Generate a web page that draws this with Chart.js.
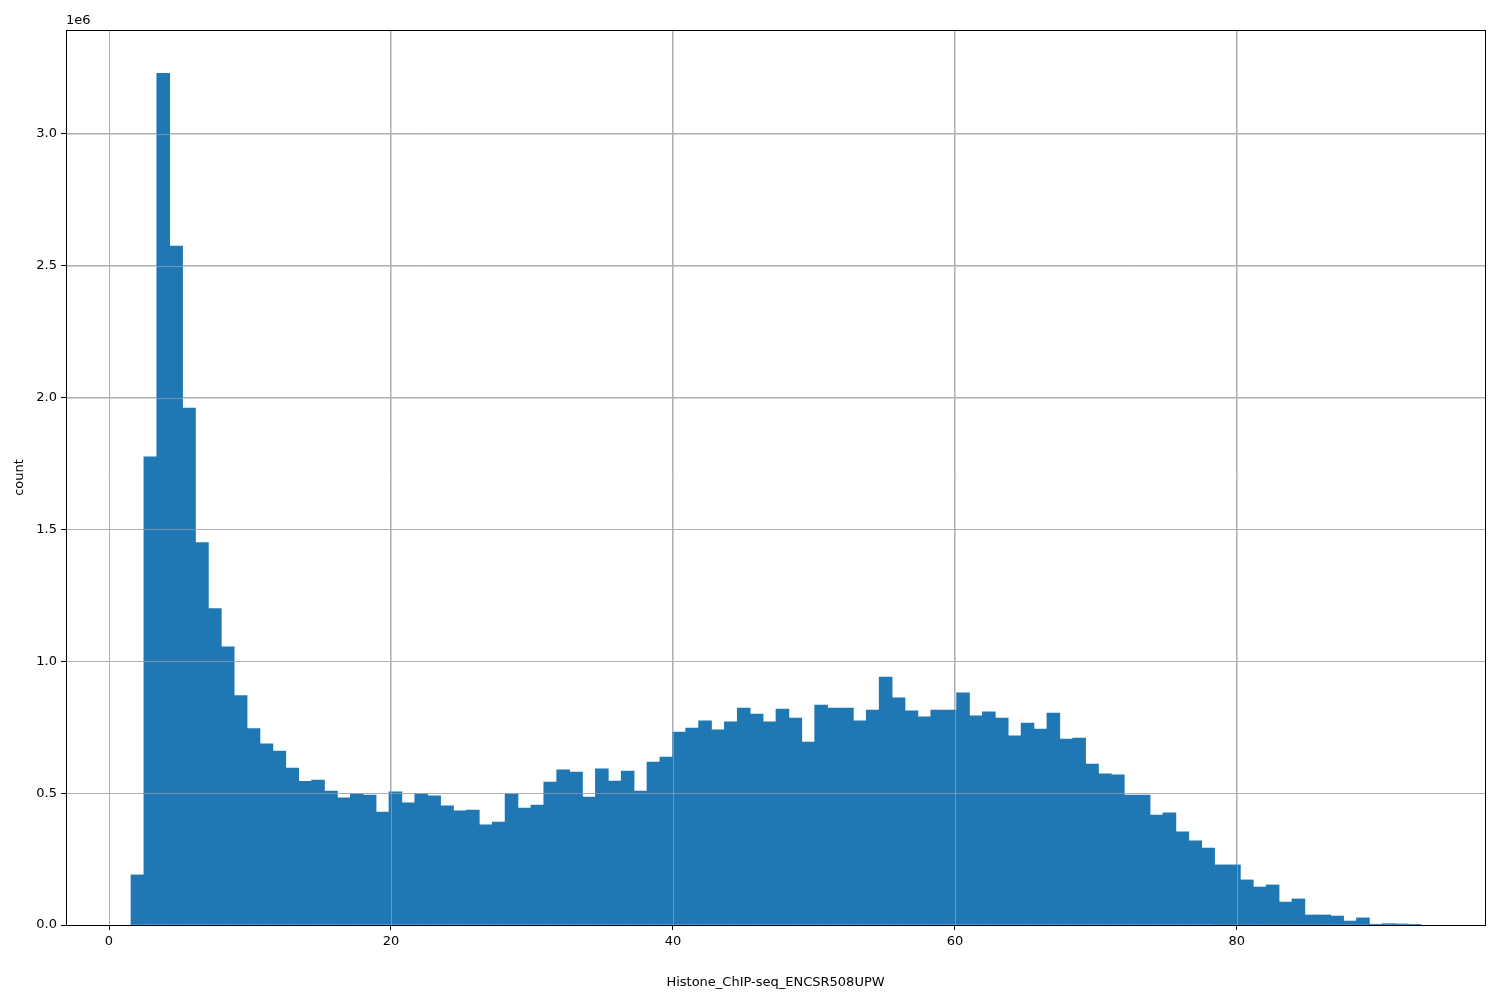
<!DOCTYPE html>
<html>
<head>
<meta charset="utf-8">
<script src="https://cdn.jsdelivr.net/npm/chart.js@4"></script>
<style>
  html, body { margin: 0; padding: 0; background: #fff; }
  #wrap { width: 1500px; height: 1000px; }
</style>
</head>
<body>
<div id="wrap"><canvas id="hist" width="1500" height="1000"></canvas></div>
<script>
// histogram: 100 equal bins starting at binStart
const binStart = 1.56;
const binWidth = 0.915;
const counts = [
  0.19, 1.775, 3.23, 2.575, 1.96, 1.45, 1.2, 1.055, 0.87, 0.745,
  0.687, 0.66, 0.595, 0.545, 0.55, 0.508, 0.482, 0.497, 0.493, 0.428,
  0.505, 0.463, 0.497, 0.49, 0.452, 0.433, 0.436, 0.38, 0.39, 0.497,
  0.443, 0.455, 0.542, 0.588, 0.58, 0.485, 0.592, 0.546, 0.584, 0.508,
  0.618, 0.637, 0.732, 0.747, 0.774, 0.74, 0.77, 0.823, 0.8, 0.77,
  0.819, 0.785, 0.694, 0.834, 0.823, 0.823, 0.774, 0.815, 0.94, 0.861,
  0.812, 0.789, 0.815, 0.815, 0.88, 0.793, 0.808, 0.785, 0.717, 0.766,
  0.743, 0.804, 0.705, 0.709, 0.61, 0.573, 0.569, 0.493, 0.493, 0.417,
  0.425, 0.353, 0.319, 0.292, 0.228, 0.228, 0.171, 0.144, 0.152, 0.087,
  0.099, 0.038, 0.038, 0.034, 0.015, 0.027, 0.003, 0.005, 0.004, 0.001
].map(v => v * 1e6);
const xTicks = [0, 20, 40, 60, 80];
const yTicks = [0, 0.5, 1.0, 1.5, 2.0, 2.5, 3.0].map(v => v * 1e6);
const xLabel = 'Histone_ChIP-seq_ENCSR508UPW';
const yLabel = 'count';

const points = counts.map((c, i) => ({ x: binStart + (i + 0.5) * binWidth, y: c }));

const FONT = 'DejaVu Sans';
Chart.defaults.font.family = FONT;
Chart.defaults.font.size = 13;
Chart.defaults.color = '#000';

// matplotlib draws the grid above the bars here
const gridOnTop = {
  id: 'gridOnTop',
  afterDatasetsDraw(chart) {
    const { ctx, chartArea: a, scales: { x, y } } = chart;
    ctx.save();
    ctx.strokeStyle = 'rgba(176,176,176,0.55)';
    ctx.lineWidth = 1;
    xTicks.forEach(v => {
      const px = Math.round(x.getPixelForValue(v)) + 0.5;
      ctx.beginPath(); ctx.moveTo(px, a.top); ctx.lineTo(px, a.bottom); ctx.stroke();
    });
    yTicks.forEach(v => {
      const py = Math.round(y.getPixelForValue(v)) + 0.5;
      ctx.beginPath(); ctx.moveTo(a.left, py); ctx.lineTo(a.right, py); ctx.stroke();
    });
    ctx.strokeStyle = '#000';
    ctx.strokeRect(a.left + 0.5, a.top + 0.5, a.right - a.left, a.bottom - a.top);
    ctx.font = '13px ' + FONT;
    ctx.fillStyle = '#000';
    ctx.textBaseline = 'bottom';
    ctx.fillText('1e6', a.left, a.top - 3);
    ctx.restore();
  }
};

new Chart(document.getElementById('hist').getContext('2d'), {
  type: 'bar',
  data: {
    datasets: [{
      data: points,
      backgroundColor: '#1f77b4',
      borderWidth: 0,
      barPercentage: 1.0,
      categoryPercentage: 1.0
    }]
  },
  options: {
    responsive: false,
    animation: false,
    plugins: { legend: { display: false }, tooltip: { enabled: false } },
    layout: { padding: { top: 30, right: 15, left: 8, bottom: 0 } },
    scales: {
      x: {
        type: 'linear',
        min: -3.05,
        max: 97.6,
        offset: false,
        afterBuildTicks: s => { s.ticks = xTicks.map(v => ({ value: v })); },
        afterFit: s => { s.height = 75; },
        ticks: { autoSkip: false, padding: 4, font: { size: 13 } },
        grid: { offset: false, color: '#b0b0b0', tickColor: '#000', tickLength: 5 },
        border: { color: '#000' },
        title: { display: true, text: xLabel, font: { size: 13 }, padding: { top: 14, bottom: 10 } }
      },
      y: {
        min: 0,
        max: 3.394e6,
        afterBuildTicks: s => { s.ticks = yTicks.map(v => ({ value: v })); },
        afterFit: s => { s.width = 58; },
        ticks: { autoSkip: false, padding: 4, font: { size: 13 }, callback: v => (v / 1e6).toFixed(1) },
        grid: { color: '#b0b0b0', tickColor: '#000', tickLength: 5 },
        border: { color: '#000' },
        title: { display: true, text: yLabel, font: { size: 13 }, padding: { bottom: 2 } }
      }
    }
  },
  plugins: [gridOnTop]
});
</script>
</body>
</html>
